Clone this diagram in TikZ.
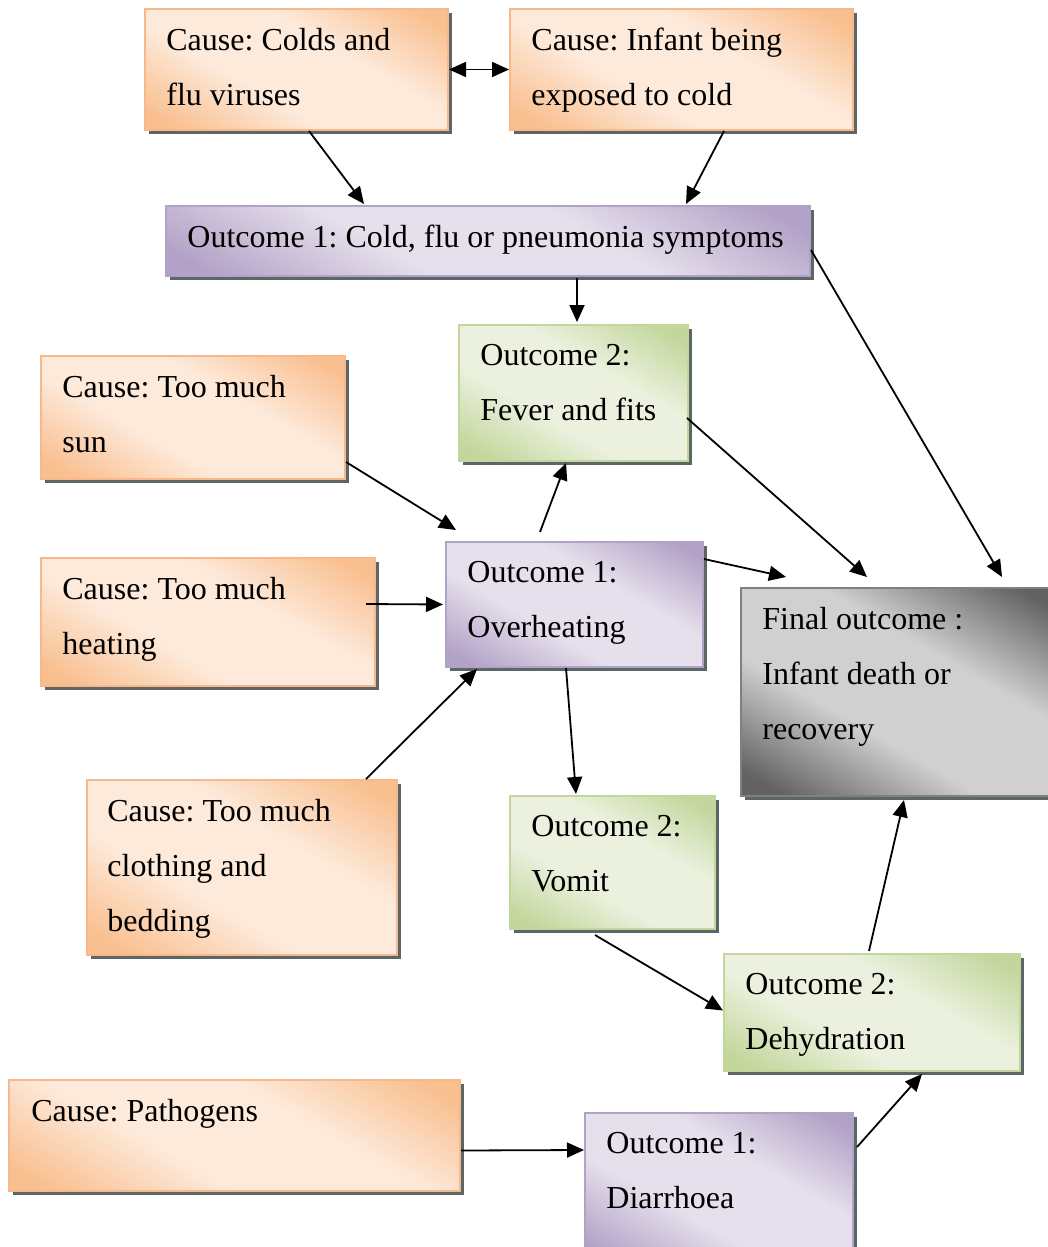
\documentclass[tikz,border=0pt]{standalone}
\usepackage{fontspec}
\setmainfont{Liberation Serif}
\usetikzlibrary{calc,fit,shadows,arrows.meta}
\definecolor{causedark}{HTML}{F9BF8F}
\definecolor{causelight}{HTML}{FDEADB}
\definecolor{causeline}{HTML}{F7B88B}
\definecolor{firstdark}{HTML}{B3A2C7}
\definecolor{firstlight}{HTML}{E6E0EC}
\definecolor{seconddark}{HTML}{C3D69B}
\definecolor{secondlight}{HTML}{EBF1DE}
\definecolor{finaldark}{HTML}{626262}
\definecolor{finallight}{HTML}{D0D0D0}
\definecolor{shadowgray}{HTML}{5C6666}
\pgfdeclareverticalshading{causeband}{100bp}{color(0bp)=(causedark); color(20bp)=(causedark); color(40bp)=(causelight); color(60bp)=(causelight); color(80bp)=(causedark); color(100bp)=(causedark)}
\pgfdeclareverticalshading{firstband}{100bp}{color(0bp)=(firstdark); color(20bp)=(firstdark); color(40bp)=(firstlight); color(60bp)=(firstlight); color(80bp)=(firstdark); color(100bp)=(firstdark)}
\pgfdeclareverticalshading{secondband}{100bp}{color(0bp)=(seconddark); color(20bp)=(seconddark); color(40bp)=(secondlight); color(60bp)=(secondlight); color(80bp)=(seconddark); color(100bp)=(seconddark)}
\pgfdeclareverticalshading{finalband}{100bp}{color(0bp)=(finaldark); color(20bp)=(finaldark); color(40bp)=(finallight); color(60bp)=(finallight); color(80bp)=(finaldark); color(100bp)=(finaldark)}
\frenchspacing

\begin{document}
\begin{tikzpicture}[x=0.5pt,y=-0.5pt,
  >={Triangle[length=8.5pt,width=7.5pt]},
  box/.style={draw, line width=1pt, inner sep=0pt, shading angle=-30,
    drop shadow={shadow xshift=2.2pt, shadow yshift=-2.2pt, fill=shadowgray, opacity=1}},
  cause/.style={box, draw=causeline, shading=causeband},
  first/.style={box, draw=firstdark, shading=firstband},
  second/.style={box, draw=seconddark, shading=secondband},
  final/.style={box, draw=gray, shading=finalband},
  txt/.style={anchor=north west, align=left, inner sep=0pt,
    font=\fontsize{16pt}{27.5pt}\selectfont},
  arr/.style={->, line width=0.9pt}]
\useasboundingbox (0,0) rectangle (1048,1247);
\node[cause, fit={(145,9) (448,130)}] (colds) {};
\node[cause, fit={(510,9) (853,130)}] (infant) {};
\node[first, fit={(166,206) (810,276)}] (flu) {};
\node[second, fit={(459,325) (688,461)}] (fever) {};
\node[cause, fit={(41,356) (345,479)}] (sun) {};
\node[cause, fit={(41,558) (375,686)}] (heat) {};
\node[first, fit={(446,542) (703,667)}] (overheat) {};
\node[final, fit={(741,588) (1062,796)}] (final) {};
\node[cause, fit={(87,780) (397,955)}] (clothing) {};
\node[second, fit={(510,796) (715,929)}] (vomit) {};
\node[second, fit={(724,954) (1020,1071)}] (dehyd) {};
\node[cause, fit={(9,1080) (460,1191)}] (pathogens) {};
\node[first, fit={(585,1113) (853,1262)}] (diarr) {};
\node[txt] (coldsT) at ($(colds.north west)+(22,20)$) {Cause: Colds and\\flu viruses};
\node[txt] (infantT) at ($(infant.north west)+(22,20)$) {Cause: Infant being\\exposed to cold};
\node[txt] (fluT) at ($(flu.north west)+(22,20)$) {Outcome 1: Cold, flu or pneumonia symptoms};
\node[txt] (feverT) at ($(fever.north west)+(22,20)$) {Outcome 2:\\Fever and fits};
\node[txt] (sunT) at ($(sun.north west)+(22,20)$) {Cause: Too much\\sun};
\node[txt] (heatT) at ($(heat.north west)+(22,20)$) {Cause: Too much\\heating};
\node[txt] (overheatT) at ($(overheat.north west)+(22,20)$) {Outcome 1:\\Overheating};
\node[txt] (finalT) at ($(final.north west)+(22,20)$) {Final outcome :\\Infant death or\\recovery};
\node[txt] (clothingT) at ($(clothing.north west)+(21,20)$) {Cause: Too much\\clothing and\\bedding};
\node[txt] (vomitT) at ($(vomit.north west)+(22,20)$) {Outcome 2:\\Vomit};
\node[txt] (dehydT) at ($(dehyd.north west)+(22,20)$) {Outcome 2:\\Dehydration};
\node[txt] (pathogensT) at ($(pathogens.north west)+(23,20)$) {Cause: Pathogens};
\node[txt] (diarrT) at ($(diarr.north west)+(22,20)$) {Outcome 1:\\Diarrhoea};
\draw[arr, <->] (colds.east) -- (infant.west);
\draw[arr] ($(colds.south west)+(165,0)$) -- ($(flu.north west)+(199,-1)$);
\draw[arr] ($(infant.south west)+(215,0)$) -- ($(flu.north west)+(521,-1)$);
\draw[arr] ($(flu.south west)+(412,1)$) -- ($(fever.north west)+(119,-2)$);
\draw[arr] ($(flu.east)+(0,9)$) -- ($(final.north west)+(262,-10)$);
\draw[arr] ($(fever.east)+(-2,25)$) -- ($(final.north west)+(127,-10)$);
\draw[arr] ($(sun.south east)+(0,-18)$) -- ($(overheat.north west)+(11,-11)$);
\draw[arr] ($(heat.east)+(-10,-18)$) -- ($(overheat.west)+(-2,0)$);
\draw[arr] ($(clothing.north west)+(280,0)$) -- ($(overheat.south west)+(32,1)$);
\draw[arr] ($(overheat.north west)+(95,-9)$) -- ($(fever.south west)+(108,1)$);
\draw[arr] ($(overheat.north east)+(0,18)$) -- ($(final.north west)+(46,-10)$);
\draw[arr] ($(overheat.south west)+(121,0)$) -- ($(vomit.north west)+(67,-1)$);
\draw[arr] ($(vomit.south west)+(86,5)$) -- ($(dehyd.west)+(0,-2)$);
\draw[arr] ($(dehyd.north west)+(146,-2)$) -- ($(final.south west)+(164,3)$);
\draw[arr] ($(pathogens.east)+(0,15)$) -- ($(diarr.north west)+(0,38)$);
\draw[arr] ($(diarr.north east)+(3,35)$) -- ($(dehyd.south west)+(199,2)$);
\end{tikzpicture}
\end{document}
